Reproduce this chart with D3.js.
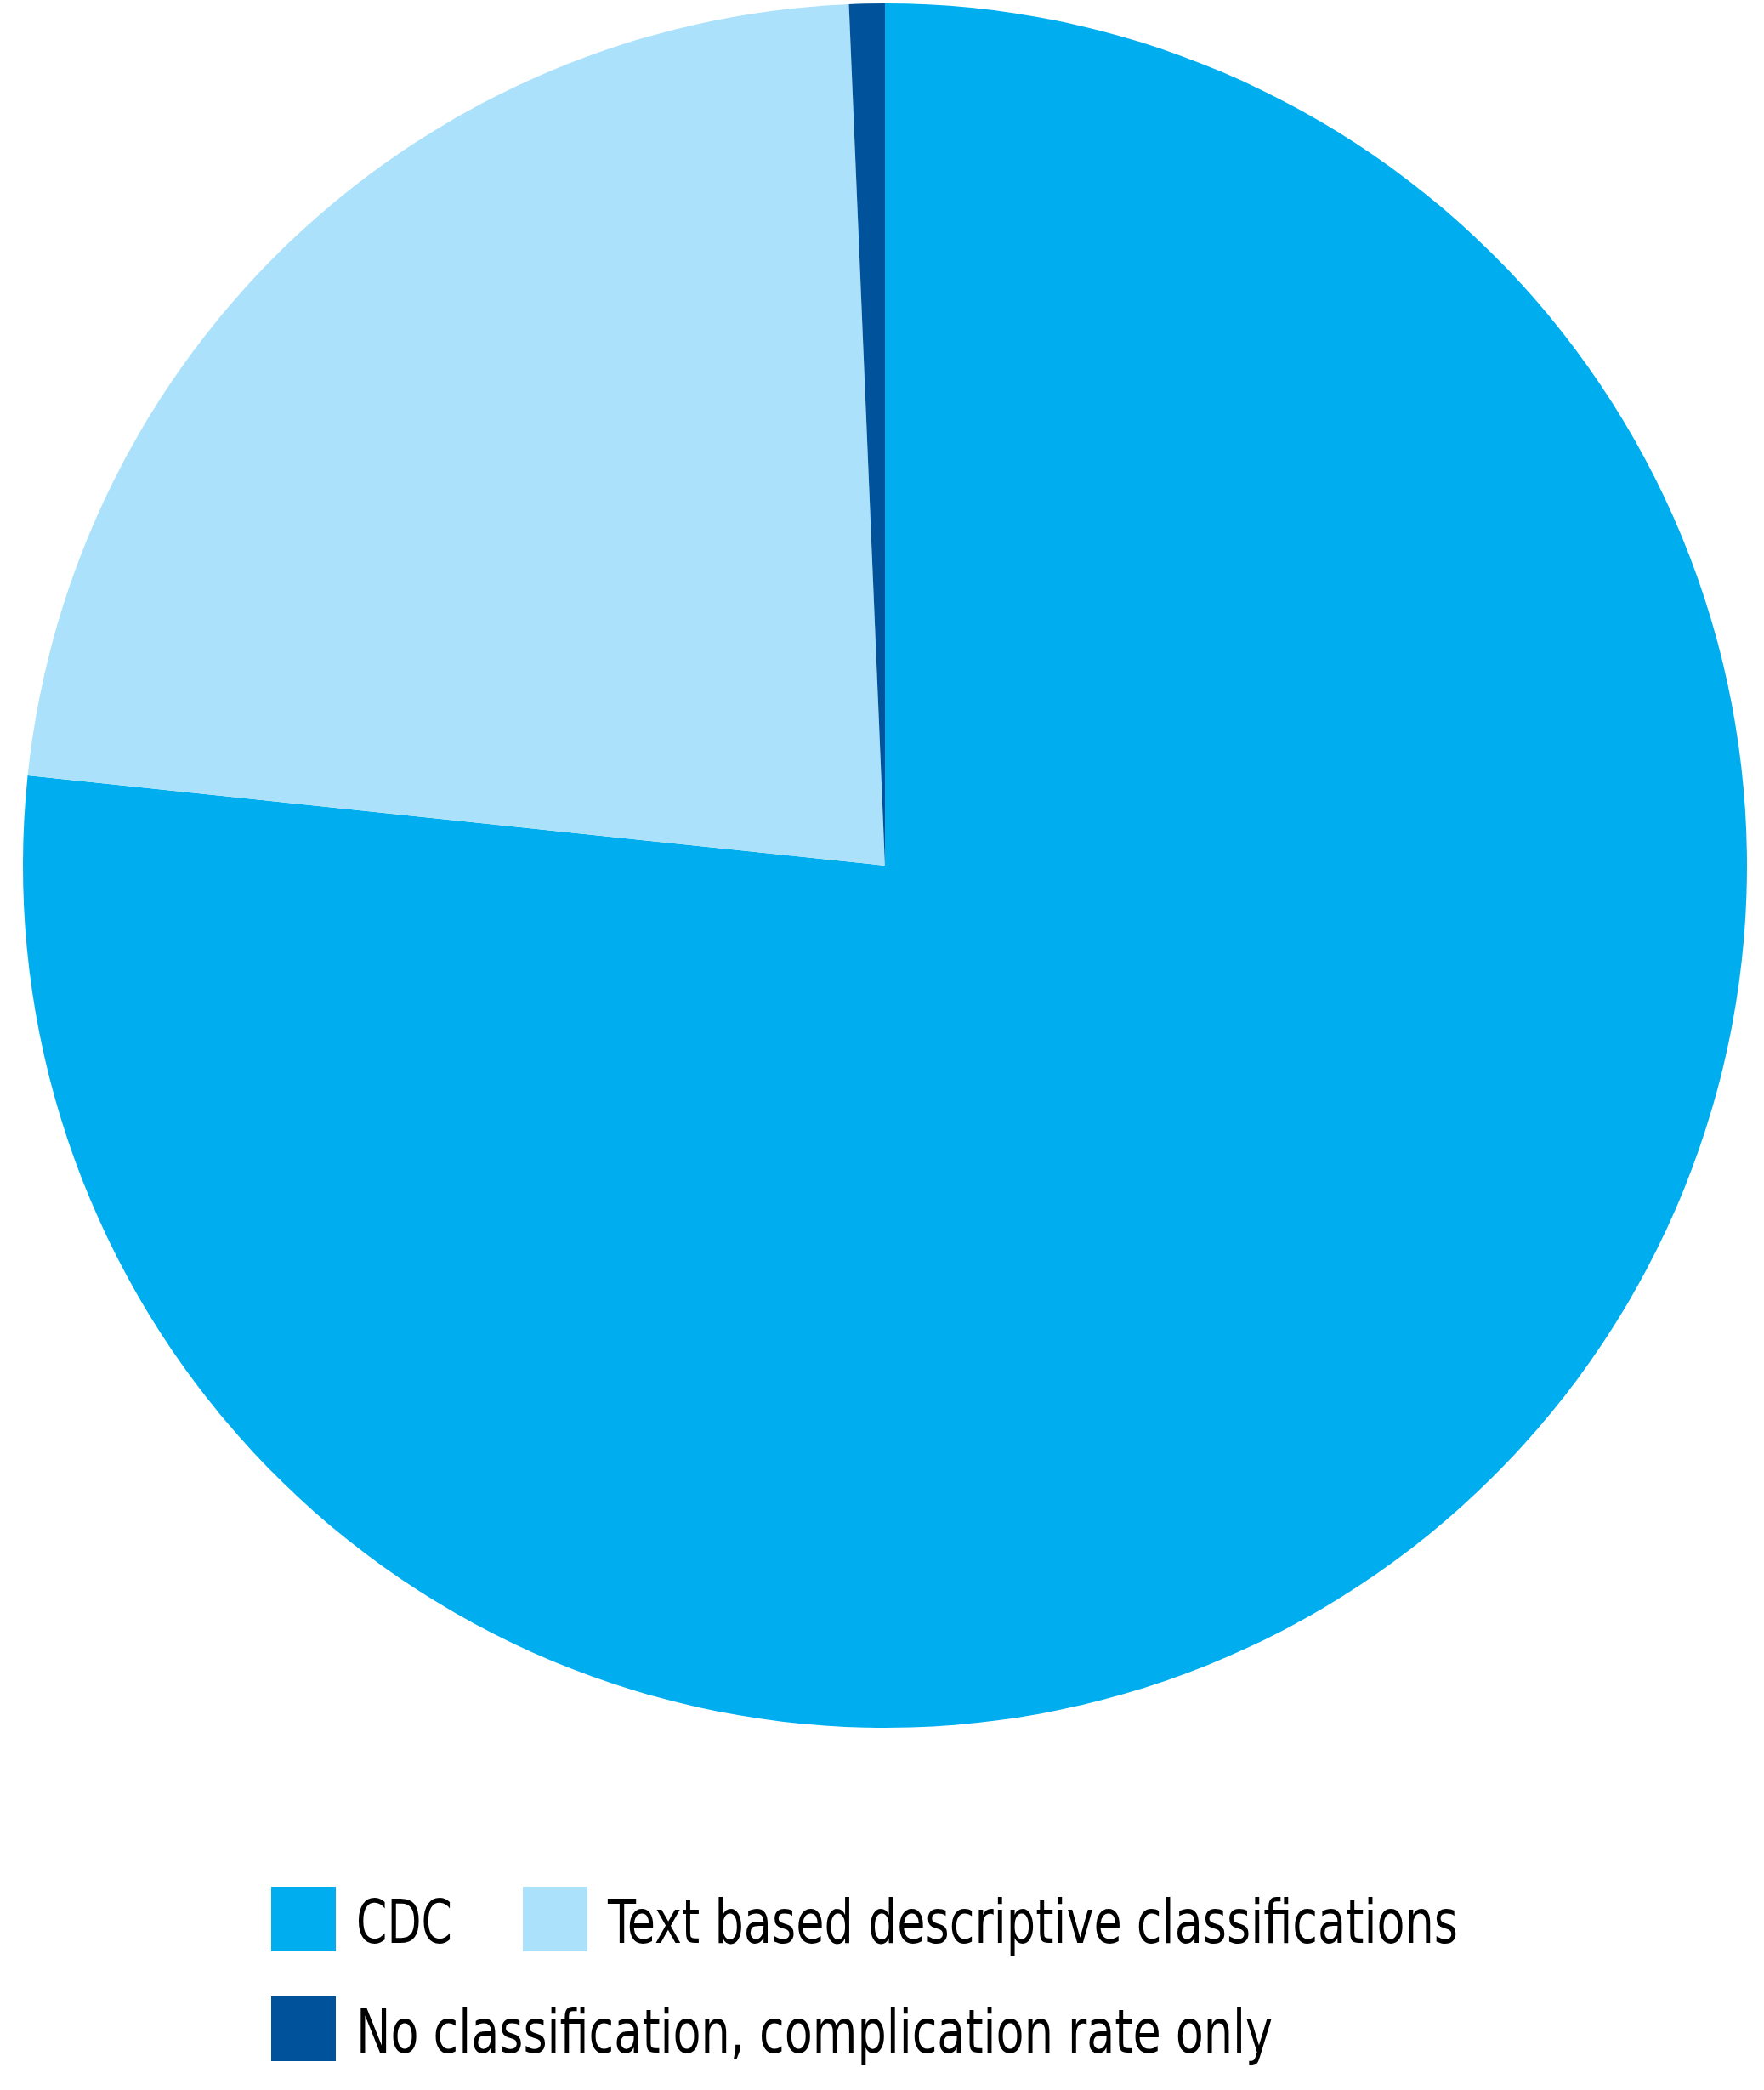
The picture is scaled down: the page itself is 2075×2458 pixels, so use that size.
<!DOCTYPE html>
<html>
<head>
<meta charset="utf-8">
<script src="https://cdn.jsdelivr.net/npm/d3@7"></script>
<style>
  body { margin: 0; background: #fff; }
  text { font-family: "Liberation Sans Narrow", "DejaVu Sans Condensed", sans-serif; }
</style>
</head>
<body>
<div id="chart-area"></div>
<script>
// data (share of studies)
var categories = ["CDC", "Text based descriptive classifications", "No classification, complication rate only"];
var values = [115, 34, 1];
var colors = ["#00aeef", "#abe1fa", "#00529b"];

// legend layout: [x of swatch, y of swatch, text width]
var legendPos = [[319, 2219, 113], [615, 2219, 1000], [319, 2348, 1078]];

var width = 2075, height = 2458;

var svg = d3.select("#chart-area").append("svg")
    .attr("width", width)
    .attr("height", height);

var pie = d3.pie().sort(null);
var arc = d3.arc().innerRadius(0).outerRadius(1014);

var g = svg.append("g").attr("transform", "translate(1041,1018)");

g.selectAll("path")
    .data(pie(values))
    .enter()
    .append("path")
    .attr("d", arc)
    .attr("fill", function(d, i) { return colors[i]; });

var legend = svg.selectAll(".legend")
    .data(categories)
    .enter()
    .append("g")
    .attr("class", "legend")
    .attr("transform", function(d, i) {
        return "translate(" + legendPos[i][0] + "," + legendPos[i][1] + ")";
    });

legend.append("rect")
    .attr("width", 76)
    .attr("height", 76)
    .attr("fill", function(d, i) { return colors[i]; });

// squeeze text to the condensed width of the original
legend.append("text")
    .attr("x", 100)
    .attr("y", 66)
    .attr("font-size", 72)
    .attr("fill", "#000")
    .attr("textLength", function(d, i) { return legendPos[i][2]; })
    .attr("lengthAdjust", "spacingAndGlyphs")
    .text(function(d) { return d; });
</script>
</body>
</html>
